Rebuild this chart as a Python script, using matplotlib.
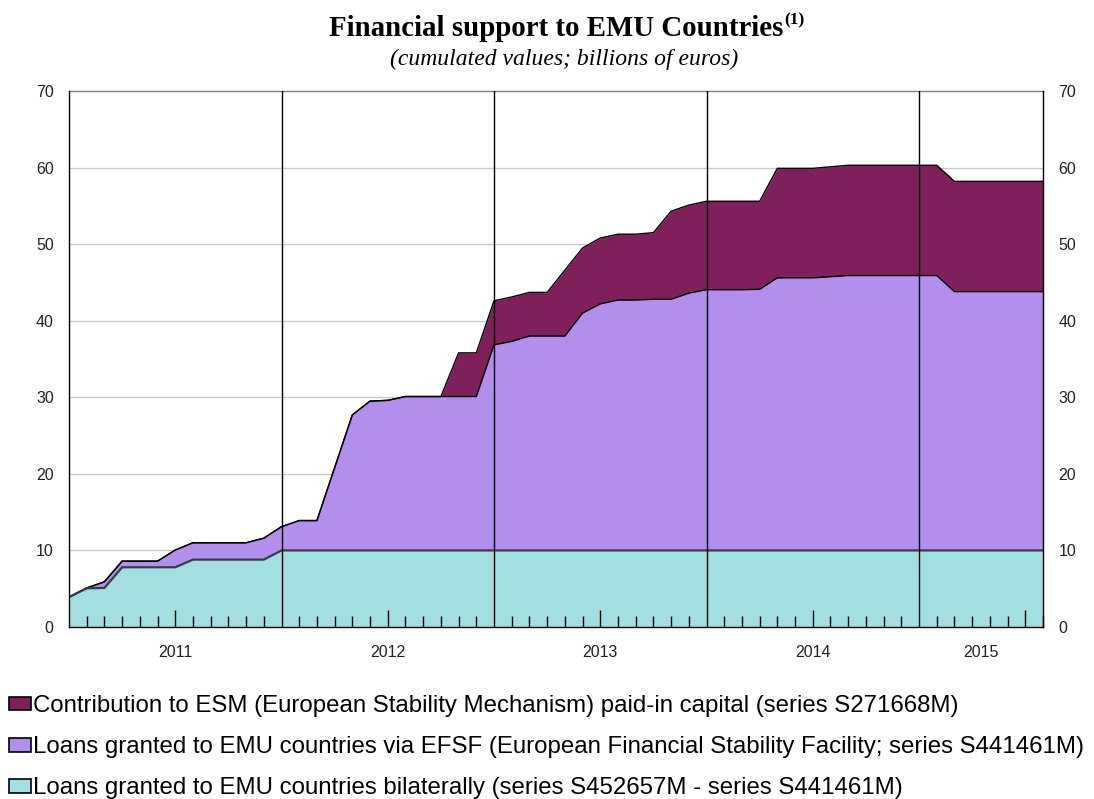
import matplotlib
matplotlib.use("Agg")
import matplotlib.pyplot as plt
import matplotlib.transforms as mtransforms
from matplotlib.patches import Patch
import numpy as np

# ---------------- data (monthly, Jan 2011 .. Aug 2015) ----------------
years = ["2011", "2012", "2013", "2014", "2015"]
year_label_pos = [6, 18, 30, 42, 51.5]
year_boundaries = [12, 24, 36, 48]

bilateral = [3.9, 5.05, 5.1, 7.8, 7.8, 7.8, 7.8, 8.8, 8.8, 8.8, 8.8, 8.8] + [10.0] * 44

efsf = [0.0, 0.05, 0.8, 0.8, 0.8, 0.8, 2.25, 2.2, 2.2, 2.2, 2.2, 2.8,
        3.1, 3.9, 3.9, 10.8, 17.7, 19.5, 19.6, 20.1, 20.1, 20.1, 20.1, 20.1,
        26.85, 27.3, 28.0, 28.0, 28.0, 31.0, 32.2, 32.7, 32.7, 32.8, 32.8, 33.6,
        34.05, 34.05, 34.05, 34.1, 35.6, 35.6, 35.6, 35.75, 35.9, 35.9, 35.9, 35.9,
        35.9, 35.9, 33.8, 33.8, 33.8, 33.8, 33.8, 33.8]

esm = [0.0] * 22 + [5.7, 5.7,
       5.75, 5.8, 5.7, 5.7, 8.6, 8.5, 8.6, 8.6, 8.6, 8.7, 11.5, 11.5,
       11.55, 11.55, 11.55, 11.5, 14.3, 14.3, 14.3, 14.35, 14.4, 14.4, 14.4, 14.4,
       14.4, 14.4, 14.4, 14.4, 14.4, 14.4, 14.4, 14.4]

labels = [
    "Contribution to ESM (European Stability Mechanism) paid-in capital (series S271668M)",
    "Loans granted to EMU countries via EFSF (European Financial Stability Facility; series S441461M)",
    "Loans granted to EMU countries bilaterally (series S452657M - series S441461M)",
]
colors = ["#7F1F5C", "#B28FEC", "#A3DFE0"]
yticks = [0, 10, 20, 30, 40, 50, 60, 70]

# ---------------- figure ----------------
plt.rcParams["font.family"] = ["Liberation Sans", "DejaVu Sans"]
W, H = 1094, 799
fig = plt.figure(figsize=(W / 100, H / 100), dpi=100)
ax = fig.add_axes([69 / W, 1 - 627 / H, (1043 - 69) / W, (627 - 91) / H])

x = np.arange(len(bilateral))
b = np.array(bilateral)
e = b + np.array(efsf)
s = e + np.array(esm)

for yv in yticks[1:-1]:
    ax.axhline(yv, color="#c8c8c8", lw=1.0, zorder=1)

ax.fill_between(x, 0, b, color=colors[2], lw=0, zorder=2)
ax.fill_between(x, b, e, color=colors[1], lw=0, zorder=2)
ax.fill_between(x, e, s, color=colors[0], lw=0, zorder=2)
ax.plot(x, s, color="black", lw=1.0, zorder=3)
ax.plot(x, e, color="black", lw=1.0, zorder=3)
ax.plot(x, b, color="#3a3a4a", lw=1.6, zorder=3)

for yb in year_boundaries:
    ax.axvline(yb, color="black", lw=1.0, zorder=4)

ax.set_xlim(0, len(bilateral) - 1)
ax.set_ylim(0, 70)
ax.set_yticks(yticks)
ax.set_axisbelow(False)
ax.tick_params(axis="y", length=0, labelsize=11.5, pad=11, labelright=True,
               labelleft=True, labelcolor="#222222")

minor = [i for i in range(1, len(bilateral)) if i not in year_boundaries and i not in (6, 18, 30, 42, 54)]
ax.set_xticks([6, 18, 30, 42, 54])
ax.set_xticks(minor, minor=True)
ax.tick_params(axis="x", which="major", direction="in", length=12, width=1, labelbottom=False)
ax.tick_params(axis="x", which="minor", direction="in", length=8, width=1)
ax.xaxis.set_zorder(4.5)

trans = mtransforms.blended_transform_factory(ax.transData, ax.transAxes)
for yr, p in zip(years, year_label_pos):
    ax.text(p, -0.047, yr, transform=trans, ha="center", va="center",
            fontsize=11.5, color="#222222")

for side in ["left", "right", "bottom"]:
    ax.spines[side].set_color("black")
    ax.spines[side].set_linewidth(1.0)
    ax.spines[side].set_zorder(5)
ax.spines["top"].set_color("#808080")
ax.spines["top"].set_linewidth(1.0)

# ---------------- titles ----------------
t = fig.text(556 / W, 1 - 28 / H, "Financial support to EMU Countries",
             ha="center", va="center", fontsize=20.8, fontweight="bold",
             family="Liberation Serif")
fig.canvas.draw()
bb = t.get_window_extent()
fig.text(bb.x1 / W + 0.001, 1 - 20 / H, "(1)", ha="left", va="center",
         fontsize=12.5, fontweight="bold", family="Liberation Serif")
fig.text(564 / W, 1 - 59 / H, "(cumulated values; billions of euros)",
         ha="center", va="center", fontsize=17, style="italic",
         family="Liberation Serif")

# ---------------- legend ----------------
handles = [Patch(facecolor=c, edgecolor="black", lw=1.2) for c in colors]
fig.legend(handles, labels, loc="upper left", bbox_to_anchor=(-0.003, 1 - 683 / H),
           frameon=False, fontsize=17.3, handlelength=0.92, handleheight=0.5,
           handletextpad=0.08, labelspacing=0.8, borderaxespad=0.3,
           borderpad=0.2)

fig.savefig("out.png", dpi=100)
